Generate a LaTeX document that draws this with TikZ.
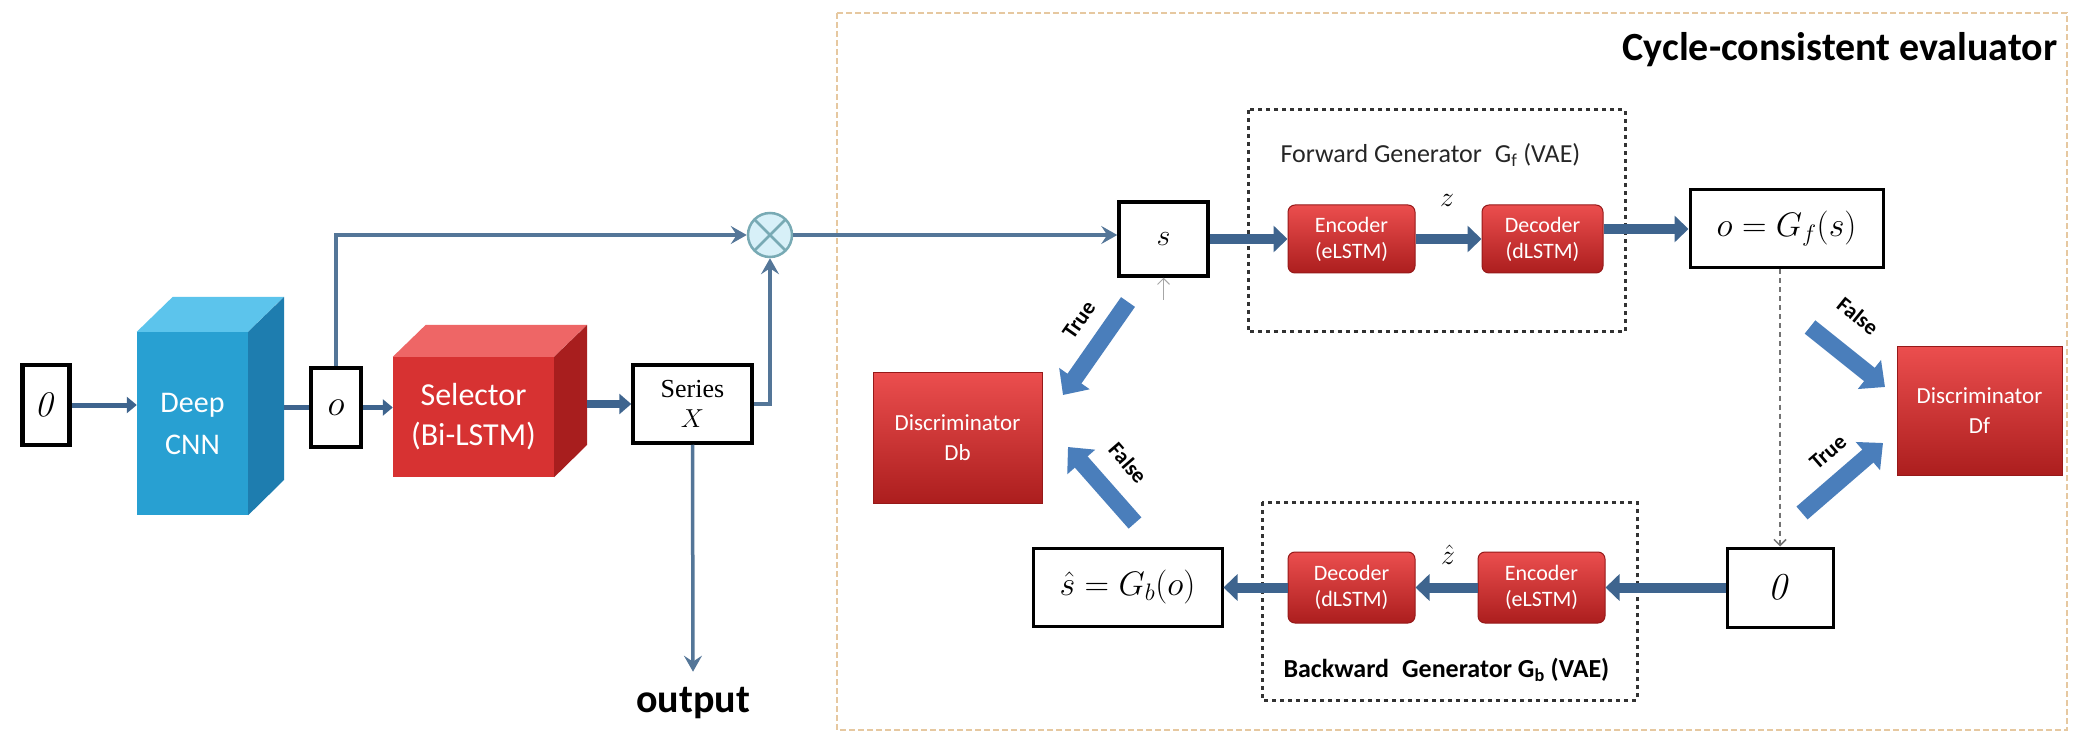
\RequirePackage{fix-cm}
\documentclass[tikz,border=0pt]{standalone}
\usepackage[no-math]{fontspec}
\setmainfont{Carlito}
\newfontfamily\serifT{Liberation Serif}
\usetikzlibrary{arrows.meta,calc}
\definecolor{evalframe}{RGB}{230,200,160}
\definecolor{thinblue}{RGB}{84,118,152}
\definecolor{thickblue}{RGB}{62,100,142}
\definecolor{blockblue}{RGB}{74,126,187}
\definecolor{redtop}{RGB}{235,78,78}
\definecolor{redbot}{RGB}{172,30,30}
\definecolor{redline}{RGB}{150,25,25}
\definecolor{cnnfront}{RGB}{40,160,210}
\definecolor{cnntop}{RGB}{92,196,236}
\definecolor{cnnside}{RGB}{30,125,175}
\definecolor{selfront}{RGB}{215,50,50}
\definecolor{seltop}{RGB}{238,102,102}
\definecolor{selside}{RGB}{168,30,30}
\definecolor{otfill}{RGB}{215,240,248}
\definecolor{otline}{RGB}{120,170,180}
\newcommand\fsz[2]{\fontsize{#1}{#2}\selectfont}
\tikzset{
  box/.style={draw=black, line width=3.5pt, fill=white, inner sep=0pt},
  cube/.style={inner sep=0pt, text=white, align=center},
  redbox/.style={rounded corners=7pt, top color=redtop, bottom color=redbot, draw=redline,
    line width=1pt, text=white, align=center, inner sep=0pt, font=\fsz{22}{26}},
  discbox/.style={top color=redtop, bottom color=redbot, draw=redline, line width=1pt,
    text=white, align=center, inner sep=0pt, font=\fsz{23}{30}},
  thinarrow/.style={draw=thinblue, line width=3.5pt, -{Stealth[length=16pt,width=18pt,inset=6pt]}},
  medarrow/.style={draw=thickblue, line width=5pt, -{Triangle[length=10pt,width=16pt]}},
  medline/.style={draw=thickblue, line width=5pt},
  bigarrow/.style={draw=thickblue, line width=8pt, -{Triangle[length=12pt,width=20pt]}},
  thickarrow/.style={draw=thickblue, line width=10pt, -{Triangle[length=14pt,width=26pt]}},
  blockarrow/.style={draw=blockblue, line width=17pt, -{Triangle[length=20pt,width=36pt]}},
  genframe/.style={draw=black!80, line width=3pt, dash pattern=on 4pt off 4pt},
  tflabel/.style={font=\fsz{22}{24}\bfseries, inner sep=0pt},
}
\begin{document}
\begin{tikzpicture}[x=1pt,y=-1pt]
\useasboundingbox (0,0) rectangle (2073,735);
\fill[white] (0,0) rectangle (2073,735);
% evaluator frame and title
\draw[evalframe, line width=2pt, dash pattern=on 6pt off 3pt] (837,13) rectangle (2067,730);
\node[anchor=east, font=\fsz{40}{48}\bfseries] (title) at (2061,50) {Cycle-consistent evaluator};

% ---------- left part ----------
\node[box, line width=4.5pt, minimum width=47pt, minimum height=80pt, font=\fsz{36}{40}] (in) at (46,405) {$\mathit{0}$};
\node[cube, fill=cnnfront, minimum width=111pt, minimum height=183pt, font=\fsz{30}{42}] (cnn) at (192.5,423.5) {Deep\\CNN};
\fill[cnntop] (cnn.north west) -- ++(36,-35) -- ++(111,0) -- (cnn.north east) -- cycle;
\fill[cnnside] (cnn.north east) -- ++(36,-35) -- ++(0,183) -- (cnn.south east) -- cycle;
\coordinate (cnnr) at (284,407.5);
\node[box, line width=4.5pt, minimum width=50pt, minimum height=79pt, font=\fsz{36}{40}] (obox) at (336,407.5) {$o$};
\node[cube, fill=selfront, minimum width=161pt, minimum height=120pt, font=\fsz{32}{40}] (sel) at (473.5,417) {Selector\\(Bi-LSTM)};
\fill[seltop] (sel.north west) -- ++(33,-32) -- ++(161,0) -- (sel.north east) -- cycle;
\fill[selside] (sel.north east) -- ++(33,-32) -- ++(0,120) -- (sel.south east) -- cycle;
\coordinate (selr) at (587,404);
\node[box, minimum width=119pt, minimum height=78pt, align=center, font=\fsz{26}{30}\serifT] (series) at (692.5,404) {Series\\$X$};
\node[circle, draw=otline, fill=otfill, line width=2.5pt, minimum size=44pt, inner sep=0pt,
  path picture={\draw[otline, line width=2.5pt]
    (path picture bounding box.north west) -- (path picture bounding box.south east)
    (path picture bounding box.north east) -- (path picture bounding box.south west);}] (ot) at (770,235) {};
\node[font=\fsz{40}{44}\bfseries] (outl) at (693,703) {output};

\draw[medarrow] (in.east) -- (in.east -| cnn.west);
\draw[medline] (cnnr) -- (obox.west);
\draw[thinarrow] (obox.north) |- (ot.west);
\draw[medarrow] (obox.east) -- (obox.east -| sel.west);
\draw[bigarrow] (selr) -- (series.west);
\draw[thinarrow] (series.east) -| (ot.south);
\draw[thinarrow] (series.south) -- ($(outl.north)+(0,-12)$);

% ---------- evaluator ----------
\draw[genframe] (1248,110) rectangle (1625,332);
\draw[genframe] (1262,502) rectangle (1637,700);
\node[anchor=west, font=\fsz{26}{30}, text=black!85] (fwdl) at (1277,155) {Forward Generator\enspace G\textsubscript{f} (VAE)};
\node[anchor=west, font=\fsz{26}{30}\bfseries] (bwdl) at (1280,670) {Backward\enspace Generator G\textsubscript{b} (VAE)};

\node[box, minimum width=89pt, minimum height=74pt, font=\fsz{30}{34}] (s) at (1163.5,239) {$s$};
\node[redbox, minimum width=127pt, minimum height=68pt] (encF) at (1351.5,239) {Encoder\\(eLSTM)};
\node[redbox, minimum width=121pt, minimum height=68pt] (decF) at (1542.5,239) {Decoder\\(dLSTM)};
\node[font=\fsz{28}{30}] (zf) at (1447,200) {$z$};
\node[box, line width=3pt, minimum width=193pt, minimum height=78pt, font=\fsz{34}{40}] (oG) at (1786.5,229) {$o = G_f(s)$};
\node[discbox, minimum width=165pt, minimum height=128pt] (Df) at (1979.5,411) {Discriminator\\Df};
\node[discbox, minimum width=169pt, minimum height=130pt] (Db) at (957.5,438) {Discriminator\\Db};
\node[box, line width=3pt, minimum width=189pt, minimum height=78pt, font=\fsz{34}{40}] (sG) at (1127.5,587) {$\hat{s} = G_b(o)$};
\node[redbox, minimum width=127pt, minimum height=71pt] (decB) at (1351.5,587.5) {Decoder\\(dLSTM)};
\node[redbox, minimum width=127pt, minimum height=71pt] (encB) at (1541.5,587.5) {Encoder\\(eLSTM)};
\node[font=\fsz{28}{30}] (zb) at (1448,555) {$\hat{z}$};
\node[box, line width=3pt, minimum width=106pt, minimum height=79pt, font=\fsz{38}{40}] (oB) at (1780,587.5) {$\mathit{0}$};

\draw[thinarrow] (ot.east) -- (ot.east -| s.west);
\draw[thickarrow] (s.east) -- (encF.west);
\draw[thickarrow] (encF.east) -- (decF.west);
\draw[thickarrow] (decF.east |- oG.west) -- (oG.west);
\draw[thickarrow] (oB.west) -- (oB.west -| encB.east);
\draw[thickarrow] (encB.west) -- (decB.east);
\draw[thickarrow] (decB.west) -- (decB.west -| sG.east);
\draw[black!55, line width=1.5pt, dash pattern=on 5pt off 4pt, -{Straight Barb[length=6pt,width=12pt]}]
  (oB.north |- oG.south) -- (oB.north);
\coordinate (stip) at (1163.5,300);
\draw[black!35, line width=1pt, -{Straight Barb[length=6pt,width=12pt]}] (stip) -- (s.south);

% True / False block arrows
\coordinate (t1a) at (1128,302); \coordinate (t1b) at (1063,395);
\coordinate (f1a) at (1135,523); \coordinate (f1b) at (1068,447);
\coordinate (f2a) at (1810,327); \coordinate (f2b) at (1885,387);
\coordinate (t2a) at (1802,513); \coordinate (t2b) at (1883,443);
\draw[blockarrow] (t1a) -- (t1b);
\draw[blockarrow] (f1a) -- (f1b);
\draw[blockarrow] (f2a) -- (f2b);
\draw[blockarrow] (t2a) -- (t2b);
\node[tflabel, rotate=55] (lt1) at (1079,320) {True};
\node[tflabel, rotate=-49] (lf1) at (1128,463) {False};
\node[tflabel, rotate=-39] (lf2) at (1858,316) {False};
\node[tflabel, rotate=41] (lt2) at (1828,452) {True};
\end{tikzpicture}
\end{document}
